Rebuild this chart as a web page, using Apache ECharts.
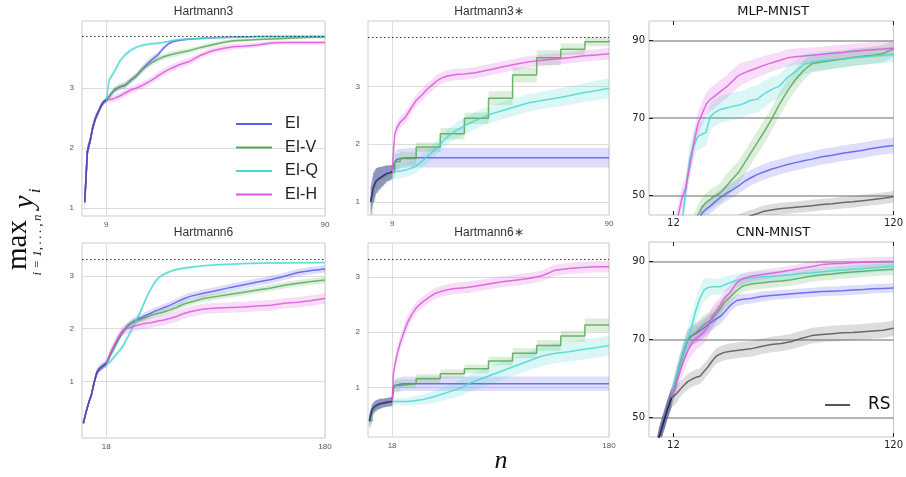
<!DOCTYPE html>
<html><head><meta charset="utf-8">
<script src="https://cdn.jsdelivr.net/npm/echarts@6/dist/echarts.min.js"></script>
<style>html,body{margin:0;padding:0;background:#fff}#c{width:906px;height:477px}</style>
</head><body><div id="c"></div>
<script>
// ---------------- DATA ----------------
const panelTitles = ['Hartmann3','Hartmann3\u2217','MLP-MNIST','Hartmann6','Hartmann6\u2217','CNN-MNIST'];
const methodNames = ['EI','EI-V','EI-Q','EI-H'];
const h3Opt = 3.86278, h6Opt = 3.32237;
const h3XTicks = [9, 90], h6XTicks = [18, 180], hartYTicks = [1, 2, 3];
const mnistXTicks = [12, 120], mnistYTicks = [50, 70, 90];
// number of shared initial-design points per panel (drawn where all curves coincide)
const initCounts = [9, 9, 0, 9, 9, 5];

// Hartmann3
const h3X   = [1,2,3,4,5,6,7,8,9,10,12,14,16,18,20,22,24,26,28,30,32,34,36,40,44,48,52,56,60,65,70,75,80,85,90];
const h3EI  = [1.1,1.95,2.12,2.35,2.5,2.6,2.7,2.77,2.8,2.86,2.97,3.02,3.05,3.13,3.2,3.3,3.4,3.48,3.55,3.66,3.74,3.78,3.8,3.82,3.83,3.84,3.845,3.85,3.855,3.86,3.86,3.86,3.86,3.86,3.86];
const h3EIV = [1.1,1.95,2.12,2.35,2.5,2.6,2.7,2.77,2.8,2.86,2.97,3.02,3.05,3.13,3.2,3.3,3.37,3.43,3.48,3.52,3.55,3.57,3.59,3.63,3.68,3.72,3.76,3.79,3.8,3.81,3.82,3.83,3.84,3.85,3.855];
const h3EIQ = [1.1,1.95,2.12,2.35,2.5,2.6,2.7,2.77,2.8,3.13,3.28,3.45,3.56,3.63,3.68,3.71,3.73,3.74,3.75,3.76,3.78,3.8,3.81,3.82,3.83,3.84,3.845,3.85,3.855,3.86,3.86,3.86,3.86,3.86,3.86];
const h3EIH = [1.1,1.95,2.12,2.35,2.5,2.6,2.7,2.77,2.8,2.81,2.83,2.87,2.92,2.97,3.0,3.04,3.09,3.14,3.2,3.26,3.31,3.35,3.39,3.45,3.55,3.62,3.66,3.69,3.7,3.72,3.755,3.76,3.76,3.76,3.76];
const h3EIBand  = [0.12,0.1,0.08,0.07,0.06,0.05,0.05,0.04,0.04,0.05,0.05,0.05,0.05,0.05,0.05,0.06,0.06,0.06,0.05,0.04,0.03,0.02,0.02,0.015,0.01,0.01,0.01,0.01,0.01,0.01,0.01,0.01,0.01,0.01,0.01];
const h3EIVBand = [0.12,0.1,0.08,0.07,0.06,0.05,0.05,0.04,0.04,0.05,0.05,0.05,0.05,0.05,0.05,0.05,0.05,0.05,0.05,0.05,0.05,0.05,0.05,0.04,0.04,0.04,0.03,0.03,0.03,0.02,0.02,0.02,0.02,0.02,0.01];
const h3EIQBand = [0.12,0.1,0.08,0.07,0.06,0.05,0.05,0.04,0.04,0.06,0.05,0.05,0.04,0.04,0.03,0.03,0.03,0.03,0.03,0.02,0.02,0.02,0.02,0.02,0.02,0.02,0.02,0.02,0.02,0.01,0.01,0.01,0.01,0.01,0.01];
const h3EIHBand = [0.12,0.1,0.08,0.07,0.06,0.05,0.05,0.04,0.04,0.05,0.06,0.06,0.06,0.06,0.06,0.06,0.06,0.06,0.06,0.06,0.06,0.06,0.06,0.06,0.05,0.05,0.05,0.05,0.04,0.04,0.03,0.03,0.03,0.03,0.03];

// Hartmann3*
const h3sX   = [1,2,3,4,5,6,7,8,9,10,11,12,14,16,18,20,22,24,26,28,30,33,36,40,45,50,55,60,65,70,75,80,85,90];
const h3sEI  = [1.0,1.25,1.36,1.4,1.43,1.46,1.49,1.5,1.52,1.7,1.74,1.75,1.76,1.765,1.765,1.765,1.765,1.765,1.765,1.765,1.765,1.765,1.765,1.765,1.765,1.765,1.765,1.765,1.765,1.765,1.765,1.765,1.765,1.765];
const h3sEIQ = [1.0,1.25,1.36,1.4,1.43,1.46,1.49,1.5,1.52,1.52,1.53,1.53,1.55,1.58,1.62,1.7,1.78,1.86,1.95,2.05,2.14,2.24,2.32,2.41,2.51,2.58,2.65,2.72,2.76,2.8,2.84,2.89,2.93,2.97];
const h3sEIH = [1.0,1.25,1.36,1.4,1.43,1.46,1.49,1.5,1.52,2.19,2.3,2.38,2.47,2.62,2.76,2.85,2.95,3.03,3.11,3.16,3.19,3.21,3.22,3.24,3.29,3.34,3.39,3.43,3.46,3.48,3.5,3.53,3.55,3.57];
const h3sVX  = [1,2,3,4,5,6,7,8,9,10,12,18,27,36,45,54,63,72,81,90];
const h3sEIV = [1.0,1.25,1.36,1.4,1.43,1.46,1.49,1.5,1.52,1.7,1.75,1.95,2.18,2.45,2.8,3.2,3.5,3.65,3.78,3.8];
const h3sEIBand  = [0.25,0.25,0.22,0.2,0.18,0.16,0.14,0.13,0.12,0.15,0.17,0.17,0.17,0.17,0.17,0.17,0.17,0.17,0.17,0.17,0.17,0.17,0.17,0.17,0.17,0.17,0.17,0.17,0.17,0.17,0.17,0.17,0.17,0.17];
const h3sEIQBand = [0.25,0.25,0.22,0.2,0.18,0.16,0.14,0.13,0.12,0.12,0.12,0.12,0.12,0.12,0.12,0.12,0.12,0.12,0.12,0.13,0.13,0.14,0.14,0.15,0.15,0.15,0.15,0.15,0.15,0.16,0.16,0.16,0.17,0.17];
const h3sEIHBand = [0.25,0.25,0.22,0.2,0.18,0.16,0.14,0.13,0.12,0.12,0.1,0.1,0.1,0.1,0.1,0.1,0.1,0.1,0.1,0.1,0.1,0.1,0.1,0.1,0.1,0.1,0.1,0.1,0.1,0.1,0.1,0.1,0.1,0.1];
const h3sEIVBand = [0.25,0.25,0.22,0.2,0.18,0.16,0.14,0.13,0.12,0.14,0.12,0.08,0.1,0.1,0.12,0.13,0.13,0.1,0.08,0.08];

// MLP-MNIST
const mlpX   = [12,14,16,18,20,22,24,26,28,30,32,35,38,41,44,47,50,53,56,60,64,68,72,76,80,85,90,95,100,105,110,115,120];
const mlpEI  = [25,28,31,34,37,40,43,45.5,46.5,47.3,48.2,49.5,50.6,51.5,52.5,53.7,54.6,55.4,56,56.8,57.4,58,58.5,59,59.4,60,60.4,60.9,61.3,61.7,62.2,62.6,62.9];
const mlpEIV = [25,30,34,37,40,42.5,45,47,48.2,49,49.8,50.7,52.5,54.3,56,58.5,61,63.5,66,69.5,73.5,77,80,82.3,84,84.4,84.8,85.2,85.6,85.9,86.2,86.6,87.9];
const mlpEIQ = [30,36,42,51,59.5,63,65.2,65.8,66.3,70.3,71.3,72.2,72.6,73,73.3,73.8,74.6,74.8,76,77.3,78.2,80.5,82,83.8,84.4,84.8,85,85.2,85.6,85.8,86,86.2,86.4];
const mlpEIH = [36,44,49,52,57.5,63.5,68.5,71,73.5,74.8,75.5,76.8,78,79.5,81,81.7,82.3,82.9,83.5,84.2,84.8,85.5,85.8,86,86.2,86.4,86.7,86.9,87.2,87.4,87.6,87.8,88];
const mlpRS  = [30,31,32,33,34,35,36,37,38,39,40,41.5,42.5,43,43.7,44.3,44.8,45.3,45.9,46.3,46.6,46.8,47,47.2,47.4,47.7,47.9,48.2,48.4,48.7,49,49.3,49.7];
const mlpEIBand  = [2,2,2,2,2,2,2,2,2,2,2,2,2,2,2,2,2,2,2,2,2,2,2,2,2,2,2,2,2,2,2,2,2];
const mlpEIVBand = [2.5,2.5,2.5,2.5,2.5,2.5,2.5,2.5,2.5,2.5,2.5,2.5,3,3,3,3,3,3,3,3,3,3,2.8,2.5,2.3,2.2,2.2,2.2,2.2,2.2,2.2,2.2,2.2];
const mlpEIQBand = [3,3,3,3,3.5,3.5,3.5,3.5,3.5,3.5,3.5,3.5,3.5,3.5,3.5,3.5,3.5,3.5,3.5,3.2,3,3,2.8,2.6,2.5,2.4,2.3,2.2,2.2,2.1,2.1,2,2];
const mlpEIHBand = [3,3,3,3,3,3,3,3,3,3,3,3,3,3,3,2.8,2.6,2.5,2.4,2.3,2.2,2.2,2.1,2.1,2,2,2,2,2,2,2,2,2];
const mlpRSBand  = [1.5,1.5,1.5,1.5,1.5,1.5,1.5,1.5,1.5,1.5,1.5,1.5,1.5,1.5,1.5,1.5,1.5,1.5,1.5,1.5,1.5,1.5,1.5,1.5,1.5,1.5,1.5,1.5,1.5,1.5,1.5,1.5,1.5];

// Hartmann6
const h6X   = [1,3,5,7,9,11,13,15,18,21,24,27,30,33,36,39,42,45,48,51,54,57,60,65,70,75,80,90,100,110,120,130,140,150,160,170,180];
const h6EI  = [0.21,0.42,0.6,0.75,0.98,1.17,1.24,1.28,1.34,1.5,1.65,1.8,1.93,2.03,2.1,2.15,2.19,2.22,2.26,2.29,2.33,2.36,2.39,2.44,2.5,2.56,2.61,2.67,2.72,2.78,2.83,2.88,2.93,2.99,3.06,3.1,3.13];
const h6EIV = [0.21,0.42,0.6,0.75,0.98,1.17,1.24,1.28,1.34,1.5,1.65,1.8,1.93,2.03,2.1,2.13,2.16,2.19,2.22,2.25,2.27,2.29,2.31,2.35,2.4,2.46,2.5,2.57,2.61,2.65,2.69,2.73,2.77,2.82,2.86,2.89,2.92];
const h6EIQ = [0.21,0.42,0.6,0.75,0.98,1.17,1.24,1.28,1.32,1.38,1.47,1.56,1.65,1.8,1.94,2.1,2.25,2.42,2.6,2.75,2.88,2.97,3.02,3.08,3.12,3.14,3.16,3.19,3.21,3.22,3.23,3.235,3.24,3.24,3.245,3.245,3.25];
const h6EIH = [0.21,0.42,0.6,0.75,0.98,1.17,1.24,1.28,1.34,1.55,1.7,1.85,1.96,2.0,2.02,2.05,2.07,2.09,2.1,2.11,2.13,2.15,2.16,2.19,2.23,2.28,2.32,2.37,2.39,2.4,2.41,2.43,2.44,2.48,2.5,2.53,2.57];
const h6EIBand  = [0.04,0.04,0.04,0.04,0.05,0.06,0.06,0.06,0.06,0.06,0.06,0.06,0.06,0.06,0.07,0.07,0.07,0.07,0.07,0.07,0.07,0.07,0.07,0.07,0.07,0.07,0.07,0.07,0.07,0.07,0.07,0.07,0.07,0.07,0.07,0.07,0.07];
const h6EIVBand = [0.04,0.04,0.04,0.04,0.05,0.06,0.06,0.06,0.06,0.06,0.06,0.06,0.06,0.06,0.06,0.06,0.06,0.06,0.06,0.06,0.06,0.06,0.06,0.06,0.06,0.06,0.06,0.06,0.06,0.06,0.06,0.06,0.06,0.06,0.06,0.06,0.06];
const h6EIQBand = [0.04,0.04,0.04,0.04,0.05,0.06,0.06,0.06,0.06,0.05,0.06,0.06,0.06,0.06,0.06,0.06,0.06,0.06,0.05,0.05,0.04,0.03,0.03,0.03,0.03,0.03,0.03,0.02,0.02,0.02,0.02,0.02,0.02,0.02,0.02,0.02,0.02];
const h6EIHBand = [0.04,0.04,0.04,0.04,0.05,0.06,0.06,0.06,0.06,0.06,0.07,0.08,0.09,0.1,0.1,0.1,0.1,0.1,0.1,0.1,0.1,0.1,0.1,0.1,0.1,0.1,0.1,0.1,0.1,0.1,0.1,0.1,0.1,0.1,0.1,0.1,0.1];

// Hartmann6*
const h6sX   = [1,3,5,7,9,11,13,15,18,19,20,22,24,26,28,30,33,36,40,45,50,55,60,65,70,75,80,90,100,110,120,130,140,150,160,170,180];
const h6sEI  = [0.4,0.6,0.66,0.69,0.71,0.72,0.73,0.74,0.75,1.0,1.04,1.05,1.06,1.07,1.07,1.07,1.07,1.07,1.07,1.07,1.07,1.07,1.07,1.07,1.07,1.07,1.07,1.07,1.07,1.07,1.07,1.07,1.07,1.07,1.07,1.07,1.07];
const h6sEIQ = [0.4,0.6,0.66,0.69,0.71,0.72,0.73,0.74,0.75,0.75,0.75,0.75,0.75,0.75,0.75,0.75,0.76,0.77,0.78,0.81,0.84,0.88,0.92,0.96,1.0,1.07,1.12,1.21,1.3,1.39,1.48,1.57,1.62,1.65,1.69,1.72,1.76];
const h6sEIH = [0.4,0.6,0.66,0.69,0.71,0.72,0.73,0.74,0.75,1.25,1.4,1.63,1.8,1.94,2.08,2.2,2.33,2.44,2.53,2.62,2.7,2.74,2.77,2.79,2.8,2.81,2.83,2.87,2.91,2.94,2.97,3.02,3.12,3.15,3.17,3.18,3.18];
const h6sVX  = [1,3,5,7,9,11,13,15,18,19,20,24,36,54,72,90,108,126,144,162,180];
const h6sEIV = [0.4,0.6,0.66,0.69,0.71,0.72,0.73,0.74,0.75,1.0,1.04,1.07,1.16,1.25,1.34,1.48,1.62,1.76,1.93,2.13,2.13];
const h6sEIBand  = [0.12,0.1,0.1,0.09,0.09,0.08,0.08,0.08,0.08,0.1,0.12,0.13,0.13,0.13,0.13,0.13,0.13,0.13,0.13,0.13,0.13,0.13,0.13,0.13,0.13,0.13,0.13,0.13,0.13,0.13,0.13,0.13,0.13,0.13,0.13,0.13,0.13];
const h6sEIQBand = [0.12,0.1,0.1,0.09,0.09,0.08,0.08,0.08,0.08,0.06,0.06,0.06,0.06,0.07,0.07,0.07,0.08,0.08,0.09,0.1,0.11,0.12,0.13,0.14,0.15,0.15,0.16,0.16,0.17,0.17,0.17,0.18,0.18,0.18,0.18,0.18,0.18];
const h6sEIHBand = [0.12,0.1,0.1,0.09,0.09,0.08,0.08,0.08,0.08,0.1,0.12,0.13,0.13,0.13,0.12,0.12,0.11,0.1,0.1,0.1,0.1,0.1,0.1,0.1,0.1,0.1,0.1,0.1,0.1,0.1,0.1,0.1,0.1,0.1,0.1,0.1,0.1];
const h6sEIVBand = [0.12,0.1,0.1,0.09,0.09,0.08,0.08,0.08,0.08,0.1,0.1,0.08,0.08,0.08,0.08,0.08,0.09,0.1,0.1,0.12,0.12];

// CNN-MNIST
const cnnX   = [3,5,7,9,11,13,15,17,19,21,23,25,27,29,31,33,35,37,40,43,46,50,55,60,65,70,75,80,85,90,95,100,105,110,115,120];
const cnnEI  = [40,45,48.5,52,55,59.2,63.2,66.8,70,71,71.5,72.2,73,73.8,74.5,75.3,75.9,77,78.8,80,80.3,80.5,81,81.3,81.5,81.7,81.9,82.1,82.3,82.4,82.5,82.7,82.8,83,83.1,83.2];
const cnnEIV = [40,45,48.5,52,55,59.2,63.2,66.8,70,71,71.8,72.8,73.8,74.5,75.2,76.5,78,79.5,81,82.5,83.7,84.2,84.5,84.8,85,85.3,85.8,86.3,86.6,86.8,87.1,87.3,87.5,87.7,87.9,88];
const cnnEIQ = [40,45,48.5,52,55,59.2,63.2,66.8,70,73.5,77.5,80.5,82.7,83.3,83.5,83.5,83.5,84,84.6,85.2,85.5,85.8,86.1,86.2,86.4,86.6,86.9,87.1,87.4,87.6,87.8,88,88.2,88.4,88.6,88.7];
const cnnEIH = [40,45,48.5,52,55,58,61.5,64.5,67,69,70.3,71,72,73.3,75.9,77.3,78.8,80.5,82.2,84.5,85.6,86.2,86.6,87,87.4,87.8,88.3,88.7,89.2,89.4,89.5,89.7,89.8,89.9,90,90];
const cnnRS  = [40,45,48.5,52,55,55.8,57,58.2,59.2,59.8,60.3,60.6,61.8,63,64.5,65.7,66.3,66.7,67,67.2,67.4,67.6,68.2,68.7,69,69.5,70.3,71,71.3,71.5,71.7,71.8,72,72.2,72.4,72.9];
const cnnEIBand  = [2.5,2.5,2.5,2.5,2.5,2.5,2.5,2.5,2.5,2.5,2.5,2.5,2.5,2.5,2.2,2,2,1.8,1.6,1.5,1.4,1.3,1.3,1.2,1.2,1.2,1.2,1.2,1.2,1.2,1.2,1.2,1.2,1.2,1.2,1.2];
const cnnEIVBand = [2.5,2.5,2.5,2.5,2.5,2.5,2.5,2.5,2.5,2.5,2.5,2.5,2.5,2.5,2.5,2.2,2,1.8,1.6,1.5,1.5,1.5,1.5,1.5,1.5,1.5,1.5,1.5,1.5,1.5,1.5,1.5,1.5,1.5,1.5,1.5];
const cnnEIQBand = [2.5,2.5,2.5,2.5,2.5,2.5,3,3,3,3,3,3,3,2.5,2,2,2,2,1.8,1.6,1.5,1.5,1.4,1.3,1.3,1.2,1.2,1.2,1.2,1.2,1.2,1.2,1.2,1.2,1.2,1.2];
const cnnEIHBand = [2.5,2.5,2.5,2.5,2.5,2.5,3,3,3,3,3,3,3,2.5,2.5,2.5,2,2,1.8,1.5,1.4,1.3,1.3,1.2,1.2,1.2,1.2,1.2,1.2,1.2,1.2,1.2,1.2,1.2,1.2,1.2];
const cnnRSBand  = [2.5,2.5,2.5,2.5,2.5,2.5,2,2,2,2,2,2,2,2,2,2,2,2,2,2,2,2,2,2,2,2,2,2,2,2,2,2,2,2,2,2];

// ---------------- STYLE / LAYOUT ----------------
const colors = {'EI':'#5c5cf2','EI-V':'#55a955','EI-Q':'#48d8d0','EI-H':'#dd55dd','RS':'#555555'};
const initLineColors = ['#5548b4','#35357f',null,'#5548b4','#35357f','#25255f'];
const initBandAlpha  = [0.08, 0.28, 0, 0.08, 0.28, 0.3];
const gridBoxes = [
  {left:82, top:21, width:243, height:195},
  {left:368, top:21, width:241, height:194},
  {left:649, top:21, width:248, height:194},
  {left:82, top:243, width:243, height:195},
  {left:368, top:243, width:241, height:194},
  {left:649, top:242, width:248, height:195}
];
const isMnist = [false,false,true,false,false,true];

const bandSeries = [], lineSeries = [], initSeries = [];
function makeBandRender(xs, lo, hi, color, step, alpha) {
  return function (params, api) {
    if (params.dataIndex !== 0) return null;
    const up = [], dn = [];
    for (let i = 0; i < xs.length; i++) {
      if (step && i > 0) {
        up.push(api.coord([xs[i], hi[i-1]]));
        dn.push(api.coord([xs[i], lo[i-1]]));
      }
      up.push(api.coord([xs[i], hi[i]]));
      dn.push(api.coord([xs[i], lo[i]]));
    }
    return {type:'polygon', shape:{points: up.concat(dn.reverse())}, style:{fill: color, opacity: alpha}, silent:true};
  };
}
function bandSeriesOf(gi, id, xs, ys, hw, color, step, alpha) {
  const lo = xs.map((x,i)=> ys[i]-hw[i]);
  const hi = xs.map((x,i)=> ys[i]+hw[i]);
  return {type:'custom', name:'band_'+gi+'_'+id, xAxisIndex:gi, yAxisIndex:gi, clip:true, silent:true,
    animation:false, renderItem: makeBandRender(xs, lo, hi, color, step, alpha),
    encode:{x:0, y:[1,2]}, data: xs.map((x,i)=>[x, lo[i], hi[i]])};
}
function addCurve(gi, name, xs, ys, hw, step, markVal) {
  const c = colors[name];
  bandSeries.push(bandSeriesOf(gi, name, xs, ys, hw, c, step, 0.2));
  const s = {type:'line', name, xAxisIndex:gi, yAxisIndex:gi, step: step ? 'end' : false, symbol:'none',
    silent:true, animation:false, clip:true, itemStyle:{color:c}, lineStyle:{color:c, width:1.5, opacity:0.85},
    data: xs.map((x,i)=>[x, ys[i]])};
  if (markVal !== undefined) {
    s.markLine = {silent:true, symbol:['none','none'], label:{show:false}, animation:false,
      lineStyle:{type:[1.5,2.5], color:'#333', width:1.2}, data:[{yAxis: markVal}]};
  }
  lineSeries.push(s);
}
function addInit(gi, xs, ys, hw) {
  const n = initCounts[gi];
  if (!n) return;
  const c = initLineColors[gi];
  const x0 = xs.slice(0,n), y0 = ys.slice(0,n), h0 = hw.slice(0,n);
  initSeries.push(bandSeriesOf(gi, 'init', x0, y0, h0, c, false, initBandAlpha[gi]));
  initSeries.push({type:'line', name:'init_'+gi, xAxisIndex:gi, yAxisIndex:gi, symbol:'none', silent:true,
    animation:false, clip:true, lineStyle:{color:c, width:1.6}, data: x0.map((x,i)=>[x, y0[i]])});
}
// Hartmann3
addCurve(0,'EI',h3X,h3EI,h3EIBand,false,h3Opt);
addCurve(0,'EI-V',h3X,h3EIV,h3EIVBand);
addCurve(0,'EI-Q',h3X,h3EIQ,h3EIQBand);
addCurve(0,'EI-H',h3X,h3EIH,h3EIHBand);
addInit(0,h3X,h3EI,h3EIBand);
// Hartmann3*
addCurve(1,'EI',h3sX,h3sEI,h3sEIBand,false,h3Opt);
addCurve(1,'EI-V',h3sVX,h3sEIV,h3sEIVBand,true);
addCurve(1,'EI-Q',h3sX,h3sEIQ,h3sEIQBand);
addCurve(1,'EI-H',h3sX,h3sEIH,h3sEIHBand);
addInit(1,h3sX,h3sEI,h3sEIBand);
// MLP
addCurve(2,'EI',mlpX,mlpEI,mlpEIBand);
addCurve(2,'EI-V',mlpX,mlpEIV,mlpEIVBand);
addCurve(2,'EI-Q',mlpX,mlpEIQ,mlpEIQBand);
addCurve(2,'EI-H',mlpX,mlpEIH,mlpEIHBand);
addCurve(2,'RS',mlpX,mlpRS,mlpRSBand);
// Hartmann6
addCurve(3,'EI',h6X,h6EI,h6EIBand,false,h6Opt);
addCurve(3,'EI-V',h6X,h6EIV,h6EIVBand);
addCurve(3,'EI-Q',h6X,h6EIQ,h6EIQBand);
addCurve(3,'EI-H',h6X,h6EIH,h6EIHBand);
addInit(3,h6X,h6EI,h6EIBand);
// Hartmann6*
addCurve(4,'EI',h6sX,h6sEI,h6sEIBand,false,h6Opt);
addCurve(4,'EI-V',h6sVX,h6sEIV,h6sEIVBand,true);
addCurve(4,'EI-Q',h6sX,h6sEIQ,h6sEIQBand);
addCurve(4,'EI-H',h6sX,h6sEIH,h6sEIHBand);
addInit(4,h6sX,h6sEI,h6sEIBand);
// CNN
addCurve(5,'EI',cnnX,cnnEI,cnnEIBand);
addCurve(5,'EI-V',cnnX,cnnEIV,cnnEIVBand);
addCurve(5,'EI-Q',cnnX,cnnEIQ,cnnEIQBand);
addCurve(5,'EI-H',cnnX,cnnEIH,cnnEIHBand);
addCurve(5,'RS',cnnX,cnnRS,cnnRSBand);
addInit(5,cnnX,cnnEI,cnnEIBand);

const hartLabel = {fontSize:8, color:'#555', fontFamily:'Liberation Sans'};
const mnistLabel = {fontSize:10, color:'#222', fontFamily:'DejaVu Sans'};
function hartX(gi, max, ticks) {
  return {type:'value', gridIndex:gi, min:0, max:max,
    axisLine:{show:false, onZero:false}, axisTick:{show:false, customValues:ticks},
    axisLabel:Object.assign({customValues:ticks, margin:5}, hartLabel),
    splitLine:{show:true, lineStyle:{color:'#dcdcdc', width:1}}};
}
function hartY(gi, min, max) {
  return {type:'value', gridIndex:gi, min:min, max:max,
    axisLine:{show:false, onZero:false}, axisTick:{show:false, customValues:hartYTicks},
    axisLabel:Object.assign({customValues:hartYTicks, margin:8}, hartLabel),
    splitLine:{show:true, lineStyle:{color:'#dcdcdc', width:1}}};
}
function mnistX(gi, top) {
  return {type:'value', gridIndex:gi, min:0, max:120, position: top ? 'top' : 'bottom',
    axisLine:{show:false, onZero:false},
    axisTick:{show:true, inside:true, length:4, customValues:mnistXTicks, lineStyle:{color:'#222', width:1}},
    axisLabel:Object.assign({show:!top, customValues:mnistXTicks, margin:3}, mnistLabel),
    splitLine:{show:false}};
}
function mnistY(gi) {
  return {type:'value', gridIndex:gi, min:45, max:95,
    axisLine:{show:false, onZero:false},
    axisTick:{show:true, inside:true, length:4, customValues:mnistYTicks, lineStyle:{color:'#222', width:1}},
    axisLabel:Object.assign({customValues:mnistYTicks, margin:4}, mnistLabel),
    splitLine:{show:true, lineStyle:{color:'#b4b4b4', width:2}}};
}

const titleCx = [203.5, 489, 773, 203.5, 489, 773];
const titleTop = [6, 6, 5.5, 227, 227, 226.5];
const textBase = {fill:'#111', align:'center', verticalAlign:'middle', textAlign:'center', textVerticalAlign:'middle'};

const option = {
  animation:false,
  backgroundColor:'#ffffff',
  grid: gridBoxes.map((g,i)=>Object.assign({show:true, borderColor: isMnist[i] ? '#c4c4c4' : '#cccccc', borderWidth:1}, g)),
  xAxis: [hartX(0,90,h3XTicks), hartX(1,90,h3XTicks), mnistX(2,false), hartX(3,180,h6XTicks), hartX(4,180,h6XTicks), mnistX(5,false), mnistX(2,true), mnistX(5,true)],
  yAxis: [hartY(0,0.87,4.12), hartY(1,0.77,4.14), mnistY(2), hartY(3,-0.07,3.62), hartY(4,0.11,3.61), mnistY(5)],
  title: panelTitles.map((t,i)=>({text:t, left:titleCx[i], top:titleTop[i], textAlign:'center', padding:0,
    textStyle: isMnist[i] ? {fontSize:13, fontWeight:'normal', color:'#111', fontFamily:'DejaVu Sans'}
                          : {fontSize:12, fontWeight:'normal', color:'#333', fontFamily:'Liberation Sans'}})),
  legend: [
    {data:methodNames, orient:'vertical', left:236, top:116, itemWidth:36, itemHeight:2, itemGap:7.5, icon:'rect',
     selectedMode:false, padding:0,
     textStyle:{fontSize:16, fontFamily:'Liberation Sans', color:'#222', padding:[0,0,0,8], lineHeight:16}},
    {data:['RS'], orient:'vertical', left:825, top:396, itemWidth:25, itemHeight:2, icon:'rect',
     selectedMode:false, padding:0,
     textStyle:{fontSize:17, fontFamily:'DejaVu Sans', color:'#111', padding:[0,0,0,13], lineHeight:18}}
  ],
  graphic: [
    {type:'text', x:18, y:245, rotation:Math.PI/2, silent:true,
     style:Object.assign({text:'max', font:'29px "Liberation Serif"'}, textBase)},
    {type:'text', x:25, y:202, rotation:Math.PI/2, silent:true,
     style:Object.assign({text:'y', font:'italic 29px "Liberation Serif"'}, textBase)},
    {type:'text', x:36, y:191, rotation:Math.PI/2, silent:true,
     style:Object.assign({text:'i', font:'italic 17px "Liberation Serif"'}, textBase)},
    {type:'text', x:38, y:245, rotation:Math.PI/2, silent:true,
     style:Object.assign({text:'i = 1,\u2009.\u2009.\u2009.\u2009,\u2009n', font:'italic 13px "Liberation Serif"'}, textBase)},
    {type:'text', x:501, y:461, silent:true,
     style:Object.assign({text:'n', font:'italic 26px "Liberation Serif"'}, textBase)}
  ],
  series: bandSeries.concat(lineSeries, initSeries)
};
const chart = echarts.init(document.getElementById('c'), null, {renderer:'canvas'});
chart.setOption(option);
</script></body></html>
